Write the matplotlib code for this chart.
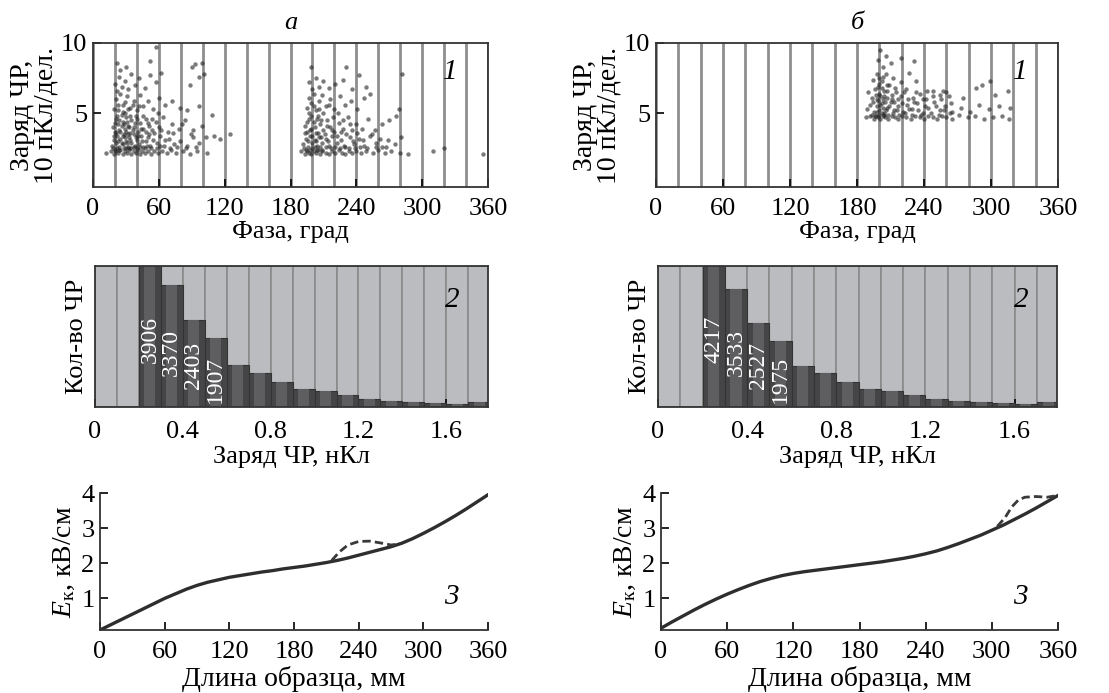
import numpy as np
import matplotlib
matplotlib.use('Agg')
import matplotlib.pyplot as plt

plt.rcParams['font.family'] = ['Liberation Serif', 'DejaVu Serif']
plt.rcParams['mathtext.fontset'] = 'custom'
plt.rcParams['mathtext.rm'] = 'Liberation Serif'
plt.rcParams['mathtext.it'] = 'Liberation Serif:italic'

# --- panel 1: PD phase patterns (phase, charge) ---
scatter_a = [
    (12, 2.2), (16, 2.3), (19, 2.1), (21, 2.3), (23, 2.2), (25, 2.4), (27, 2.1), (29, 2.3), (31, 2.2),
    (33, 2.4), (35, 2.1), (37, 2.3), (39, 2.2), (41, 2.4), (43, 2.1), (45, 2.3), (47, 2.2), (50, 2.3),
    (53, 2.1), (56, 2.3), (59, 2.2), (63, 2.3), (67, 2.2), (71, 2.4), (76, 2.2), (82, 2.3), (88, 2.1),
    (95, 2.3), (104, 2.2),
    (17, 2.7), (19, 3.1), (21, 2.9), (22, 3.4), (24, 2.6), (25, 3.2), (27, 2.8), (28, 3.5), (30, 3.0),
    (32, 2.6), (33, 3.3), (35, 2.9), (37, 3.5), (38, 2.7), (40, 3.1), (42, 2.8), (44, 3.4), (46, 2.6),
    (48, 3.0), (50, 3.3), (52, 2.7), (55, 3.1), (58, 2.9), (61, 3.4), (65, 2.7), (69, 3.2), (74, 2.8),
    (79, 3.0), (86, 2.7), (91, 3.3), (97, 2.9), (103, 3.3), (110, 3.4), (116, 3.2), (125, 3.5),
    (18, 4.0), (20, 3.7), (21, 4.6), (23, 4.2), (24, 3.8), (26, 4.9), (27, 4.4), (29, 3.9), (30, 4.7),
    (32, 4.1), (34, 3.6), (35, 4.5), (37, 4.0), (39, 4.8), (41, 3.7), (43, 4.3), (46, 3.9), (48, 4.6),
    (51, 4.1), (54, 3.8), (57, 4.4), (60, 4.0), (64, 4.7), (68, 3.7), (72, 4.2), (78, 3.9), (84, 4.5),
    (91, 3.8), (99, 4.1), (108, 4.9),
    (19, 5.3), (21, 6.0), (23, 5.6), (25, 6.4), (27, 5.1), (29, 5.8), (31, 6.2), (34, 5.4), (37, 5.9),
    (40, 5.2), (43, 6.3), (46, 5.5), (50, 5.9), (55, 5.3), (60, 6.1), (66, 5.6), (72, 5.9), (79, 5.4),
    (86, 5.2), (97, 5.5),
    (20, 7.1), (22, 6.6), (24, 7.6), (26, 6.9), (29, 7.3), (32, 6.7), (35, 7.8), (38, 7.0), (42, 7.5),
    (47, 6.8), (52, 7.7), (57, 7.2), (62, 7.9), (88, 7.0), (97, 7.6), (101, 7.8),
    (22, 8.6), (25, 8.1), (30, 8.3), (52, 8.7), (57, 9.7), (90, 8.3), (93, 8.5), (99, 8.6),
    (18, 2.5), (19, 3.4), (20, 4.3), (20, 2.4), (21, 3.6), (22, 2.5), (22, 4.8), (23, 3.0), (23, 5.2),
    (24, 4.5), (24, 2.4), (25, 3.7), (26, 2.9), (26, 4.1), (27, 3.4), (27, 5.6), (28, 2.5), (28, 4.2),
    (29, 3.3), (29, 5.0), (30, 2.5), (30, 3.7), (31, 4.4), (31, 2.9), (32, 3.5), (32, 5.3), (33, 2.5),
    (33, 4.0), (34, 3.1), (34, 4.8), (35, 2.5), (36, 3.8), (36, 5.6), (37, 2.6), (38, 4.3), (39, 3.3),
    (40, 2.5), (40, 4.6), (41, 3.4), (42, 5.5), (43, 2.6), (44, 3.9), (45, 3.0), (46, 4.8), (47, 2.5),
    (48, 3.7), (49, 2.7), (50, 4.3), (51, 3.5), (53, 2.5), (54, 4.6), (56, 3.6), (58, 2.5), (59, 5.0),
    (61, 2.7), (62, 3.8), (66, 3.1), (70, 2.5), (73, 3.6), (77, 2.6), (81, 4.2), (85, 2.5), (89, 3.5),
    (94, 2.6),
    (190, 2.3), (193, 2.1), (195, 2.3), (197, 2.2), (199, 2.1), (201, 2.3), (203, 2.2), (205, 2.4),
    (207, 2.1), (209, 2.3), (212, 2.2), (215, 2.1), (218, 2.3), (221, 2.2), (224, 2.4), (227, 2.2),
    (230, 2.1), (233, 2.3), (236, 2.2), (240, 2.3), (244, 2.2), (249, 2.3), (255, 2.2), (260, 2.4),
    (266, 2.2), (272, 2.3), (280, 2.2), (287, 2.1), (310, 2.3), (320, 2.5), (355, 2.1),
    (191, 2.8), (194, 3.2), (196, 2.6), (198, 3.4), (200, 2.9), (202, 3.1), (204, 2.7), (206, 3.3),
    (209, 2.9), (212, 3.2), (215, 2.7), (218, 3.4), (222, 2.9), (226, 3.1), (230, 2.6), (234, 3.3),
    (238, 2.8), (242, 3.2), (247, 2.7), (252, 3.4), (258, 2.9), (263, 2.6), (269, 3.1), (275, 2.8),
    (281, 3.3),
    (193, 4.1), (195, 3.7), (197, 4.6), (199, 3.9), (201, 4.4), (203, 3.6), (205, 4.8), (207, 4.2),
    (210, 3.8), (213, 4.5), (216, 4.0), (220, 3.7), (224, 4.3), (228, 3.9), (232, 4.7), (236, 3.8),
    (240, 4.2), (245, 3.9), (251, 4.6), (257, 3.8), (263, 4.2), (270, 4.5), (276, 4.8),
    (195, 5.4), (197, 6.1), (199, 5.7), (201, 6.4), (203, 5.2), (206, 5.9), (209, 6.3), (212, 5.5),
    (216, 6.0), (220, 5.3), (225, 6.2), (230, 5.6), (235, 5.9), (241, 5.3), (247, 6.1), (252, 6.4),
    (279, 5.3),
    (197, 7.2), (200, 6.7), (203, 7.5), (206, 6.9), (210, 7.3), (215, 6.8), (221, 7.1), (228, 7.4),
    (236, 6.7), (242, 7.7), (249, 6.9),
    (199, 8.3), (231, 8.3), (282, 7.8),
    (192, 2.5), (193, 3.6), (194, 2.4), (195, 4.4), (196, 3.0), (197, 5.0), (198, 2.4), (198, 3.8),
    (199, 4.8), (200, 2.5), (200, 3.4), (201, 5.5), (202, 2.6), (202, 4.0), (203, 3.0), (204, 4.6),
    (204, 2.4), (205, 3.6), (206, 5.3), (207, 2.6), (208, 3.3), (208, 4.5), (209, 2.4), (210, 5.0),
    (211, 3.5), (212, 2.6), (213, 4.1), (214, 3.0), (215, 5.6), (217, 2.5), (218, 3.8), (219, 4.7),
    (221, 2.6), (222, 3.4), (223, 5.0), (225, 2.5), (226, 3.7), (228, 4.5), (229, 2.7), (231, 3.5),
    (233, 2.5), (234, 4.2), (237, 3.0), (239, 2.5), (241, 3.6), (243, 2.6), (246, 3.1), (250, 2.5),
    (254, 3.5), (258, 2.6), (262, 3.2), (267, 2.6),
]
scatter_b = [
    (188, 4.7), (192, 4.8), (195, 4.6), (197, 4.8), (199, 4.7), (201, 4.6), (203, 4.8), (205, 4.7),
    (208, 4.6), (211, 4.8), (214, 4.7), (217, 4.6), (220, 4.8), (224, 4.7), (228, 4.6), (232, 4.8),
    (236, 4.7), (240, 4.6), (244, 4.8), (248, 4.7), (252, 4.6), (256, 4.8), (260, 4.7), (265, 4.6),
    (271, 4.9), (279, 4.7), (286, 4.8), (294, 4.6), (302, 4.7), (310, 4.8), (316, 4.6),
    (189, 5.3), (192, 5.6), (195, 5.1), (198, 5.5), (200, 5.2), (202, 5.7), (204, 5.0), (207, 5.4),
    (210, 5.8), (213, 5.2), (217, 5.5), (221, 5.1), (225, 5.6), (229, 5.3), (234, 5.7), (239, 5.0),
    (244, 5.4), (249, 5.8), (254, 5.2), (259, 5.5), (265, 5.1), (273, 5.4), (281, 5.1), (289, 5.6),
    (298, 5.3), (307, 5.5), (317, 5.4),
    (190, 6.5), (193, 6.1), (196, 6.7), (198, 6.0), (200, 6.4), (202, 6.8), (204, 6.2), (207, 6.6),
    (211, 6.0), (215, 6.5), (219, 6.2), (224, 6.7), (230, 6.1), (236, 6.4), (242, 6.0), (248, 6.6),
    (254, 6.3), (260, 6.5), (275, 6.1), (287, 6.8), (304, 6.3), (315, 6.6),
    (194, 7.4), (198, 7.8), (200, 7.1), (203, 7.6), (207, 7.0), (212, 7.5), (219, 7.2), (227, 7.9),
    (233, 7.3), (292, 7.0), (299, 7.3),
    (199, 8.8), (201, 9.5), (203, 8.3), (206, 9.1), (210, 8.6), (219, 8.9), (231, 8.7),
    (193, 4.9), (194, 5.8), (196, 4.8), (197, 6.3), (198, 5.1), (199, 6.9), (199, 5.9), (200, 4.9),
    (200, 7.5), (201, 5.6), (201, 6.2), (202, 5.0), (202, 7.3), (203, 6.0), (203, 5.4), (204, 6.6),
    (204, 4.9), (205, 5.8), (206, 7.8), (206, 5.2), (207, 6.1), (208, 4.9), (209, 5.5), (209, 7.0),
    (211, 6.3), (212, 5.0), (213, 5.8), (214, 6.8), (216, 5.2), (217, 6.0), (218, 4.9), (220, 5.7),
    (222, 6.5), (223, 5.0), (226, 6.0), (227, 5.3), (229, 4.9), (231, 5.8), (233, 6.5), (235, 5.2),
    (237, 4.9), (239, 6.0), (241, 5.5), (243, 6.6), (246, 5.0), (248, 6.2), (251, 5.5), (253, 4.9),
    (255, 6.0), (257, 6.6), (258, 5.2), (262, 6.2), (263, 5.0), (264, 5.7),
]

# --- panel 2: PD charge histograms (bin 0.1 nC) ---
charge_bins = [0.0, 0.1, 0.2, 0.3, 0.4, 0.5, 0.6, 0.7, 0.8, 0.9, 1.0, 1.1, 1.2, 1.3, 1.4, 1.5, 1.6, 1.7]
counts_a = [0, 0, 3906, 3370, 2403, 1907, 1150, 940, 690, 500, 430, 320, 230, 175, 145, 120, 85, 130]
counts_b = [0, 0, 4217, 3533, 2527, 1975, 1240, 1010, 750, 540, 470, 350, 250, 190, 160, 130, 90, 140]

# --- panel 3: field strength along the sample ---
length_mm = [0, 10, 20, 30, 40, 50, 60, 70, 80, 90, 100, 110, 120, 130, 140, 150, 160, 170, 180,
             190, 200, 210, 220, 230, 240, 250, 260, 270, 280, 290, 300, 310, 320, 330, 340, 350, 360]
field_a = [0.1, 0.25, 0.4, 0.55, 0.7, 0.85, 1.0, 1.13, 1.26, 1.37, 1.46, 1.53, 1.6, 1.65, 1.7, 1.75,
           1.79, 1.84, 1.88, 1.92, 1.97, 2.02, 2.08, 2.15, 2.23, 2.31, 2.39, 2.47, 2.57, 2.7, 2.85,
           3.01, 3.18, 3.36, 3.55, 3.75, 3.95]
field_b = [0.15, 0.33, 0.5, 0.67, 0.83, 0.98, 1.12, 1.25, 1.37, 1.48, 1.57, 1.65, 1.71, 1.76, 1.8,
           1.84, 1.88, 1.92, 1.96, 2.0, 2.04, 2.09, 2.14, 2.2, 2.27, 2.35, 2.45, 2.56, 2.68, 2.8, 2.94,
           3.08, 3.24, 3.4, 3.57, 3.75, 3.93]
defect_x_a = [215, 222, 230, 240, 250, 260, 270, 278]
defect_y_a = [2.08, 2.32, 2.52, 2.62, 2.63, 2.58, 2.52, 2.55]
defect_x_b = [305, 312, 318, 324, 330, 340, 350, 360]
defect_y_b = [3.05, 3.3, 3.6, 3.8, 3.88, 3.9, 3.88, 3.93]

fig = plt.figure(figsize=(11.09, 6.93), dpi=100)
W, H = 1109, 693


def ax_px(x0, x1, y0, y1):
    return fig.add_axes([x0 / W, 1 - y1 / H, (x1 - x0) / W, (y1 - y0) / H])


FS = 19
tick_kw = dict(direction='in', labelsize=FS, width=1.2, length=6)

cols = [
    ('а', scatter_a, counts_a, field_a, defect_x_a, defect_y_a, 93, 488, 95, 488, 100, 488),
    ('б', scatter_b, counts_b, field_b, defect_x_b, defect_y_b, 656, 1058, 658, 1057, 661, 1058),
]

for title, pts, counts, field, dx, dy, l1, r1, l2, r2, l3, r3 in cols:
    # panel 1
    ax = ax_px(l1, r1, 43, 187)
    ph = [p[0] for p in pts]
    q = [p[1] for p in pts]
    ax.set_xlim(0, 360)
    ax.set_ylim(-0.25, 10)
    ax.set_xticks(np.arange(20, 360, 20), minor=True)
    ax.grid(which='both', axis='x', color='#8e8e8e', lw=2.0)
    ax.scatter(ph, q, s=10, color='#222222', alpha=0.6, lw=0, zorder=3)
    ax.set_xticks([0, 60, 120, 180, 240, 300, 360])
    ax.set_yticks([5, 10])
    ax.tick_params(**tick_kw)
    ax.tick_params(axis='x', pad=8)
    ax.tick_params(axis='y', pad=4)
    ax.tick_params(which='minor', length=0)
    for s in ax.spines.values():
        s.set_linewidth(1.3)
        s.set_color('#333333')
    ax.set_xlabel('Фаза, град', fontsize=FS, labelpad=1)
    ax.set_ylabel('Заряд ЧР,\n10 пКл/дел.', fontsize=FS + 1, labelpad=2, linespacing=0.9)
    ax.set_title(title, fontsize=FS, style='italic', pad=10)
    ax.text(0.905, 0.80, '1', transform=ax.transAxes, fontsize=FS + 2, style='italic',
            ha='center', va='center')

    # panel 2
    ax = ax_px(l2, r2, 266, 407)
    ymax = counts[2]
    ax.bar(charge_bins, [ymax] * len(charge_bins), width=0.1, align='edge',
           color='#bbbcc0', edgecolor='#8a8a8a', lw=1.2, zorder=1)
    ax.bar(charge_bins, counts, width=0.1, align='edge',
           color='#454547', edgecolor='#333333', lw=0.8, zorder=2)
    ax.bar([c + 0.025 for c in charge_bins], counts, width=0.05, align='edge',
           color='#5e5e60', lw=0, zorder=2)
    ax.set_xlim(0, 1.79)
    ax.set_ylim(0, ymax)
    ax.set_yticks([])
    ax.set_xticks([0, 0.4, 0.8, 1.2, 1.6])
    ax.set_xticklabels(['0', '0.4', '0.8', '1.2', '1.6'])
    ax.tick_params(**tick_kw)
    ax.tick_params(axis='x', pad=10)
    for s in ax.spines.values():
        s.set_linewidth(1.3)
        s.set_color('#333333')
    for i in range(2, 6):
        ax.text(charge_bins[i] + 0.05, ymax * (0.645 - 0.093 * (i - 2)), str(counts[i]),
                rotation=90, color='white', fontsize=FS - 2, ha='center', va='top', zorder=4)
    ax.set_xlabel('Заряд ЧР, нКл', fontsize=FS, labelpad=2)
    ax.set_ylabel('Кол-во ЧР', fontsize=FS, labelpad=5)
    ax.text(0.91, 0.76, '2', transform=ax.transAxes, fontsize=FS + 2, style='italic',
            ha='center', va='center')

    # panel 3
    ax = ax_px(l3, r3, 493, 630)
    ax.plot(length_mm, field, color='#2e2e2e', lw=2.4)
    ax.plot(dx, dy, color='#3a3a3a', lw=2.0, ls=(0, (3, 1.5)))
    ax.set_xlim(0, 360)
    ax.set_ylim(0.1, 4)
    ax.set_xticks([0, 60, 120, 180, 240, 300, 360])
    ax.set_yticks([1, 2, 3, 4])
    ax.tick_params(**tick_kw)
    ax.tick_params(axis='x', pad=8)
    ax.tick_params(axis='y', pad=4)
    ax.spines['top'].set_visible(False)
    ax.spines['right'].set_visible(False)
    for s in ('left', 'bottom'):
        ax.spines[s].set_linewidth(1.3)
        ax.spines[s].set_color('#333333')
    ax.set_xlabel('Длина образца, мм', fontsize=FS + 1, labelpad=2)
    ax.set_ylabel(r'$\mathit{E}_{\mathrm{к}}$, кВ/см', fontsize=FS + 1, labelpad=3)
    ax.text(0.905, 0.24, '3', transform=ax.transAxes, fontsize=FS + 2, style='italic',
            ha='center', va='center')

fig.savefig('out.png', dpi=100)
